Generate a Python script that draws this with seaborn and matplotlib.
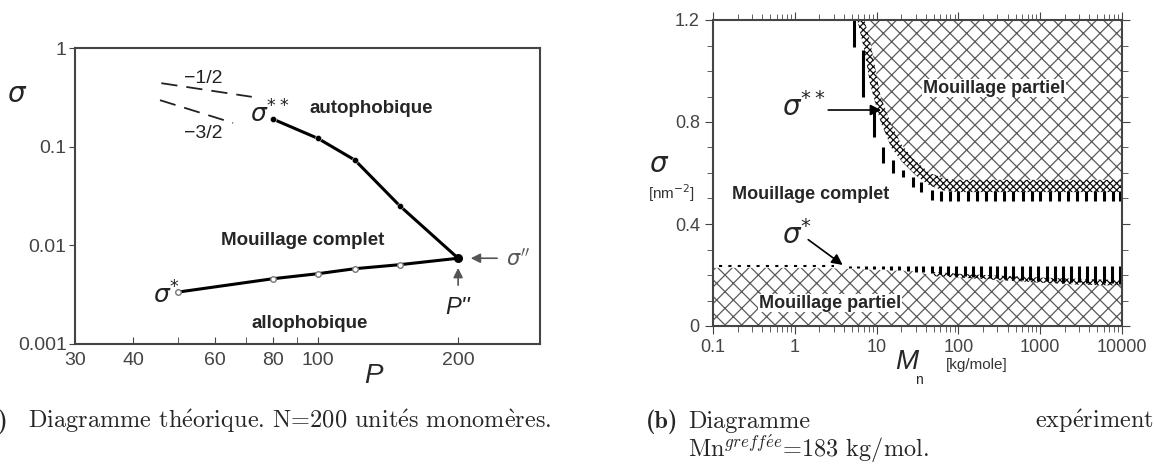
import matplotlib
matplotlib.use("Agg")
import matplotlib.pyplot as plt
import matplotlib.ticker as mticker
import pandas as pd
import seaborn as sns

# ---- (a) theoretical diagram, N = 200
p_upper = [80, 100, 120, 150, 200]
sig_upper = [0.19, 0.121, 0.073, 0.025, 0.0074]
p_lower = [50, 80, 100, 120, 150, 200]
sig_lower = [0.00336, 0.00459, 0.00516, 0.0058, 0.00637, 0.0074]
p_half = [46, 72]
sig_half = [0.44, 0.32]
p_three_half = [45.7, 65.6]
sig_three_half = [0.296, 0.174]
p_ticks = [30, 40, 60, 80, 100, 200]
p_minor = [50, 70, 90]
sig_ticks = [0.001, 0.01, 0.1, 1]
sig_tick_labels = ["0.001", "0.01", "0.1", "1"]

# ---- (b) experimental diagram
m_edge = [5.8, 7.1, 8.3, 11.2, 15.1, 20.3, 30.3, 45, 68, 100, 10000]
sig_edge = [1.2, 1.08, 0.95, 0.80, 0.70, 0.645, 0.59, 0.55, 0.53, 0.525, 0.525]
sig_inner = [1.2, 1.2, 1.12, 0.90, 0.79, 0.71, 0.645, 0.60, 0.578, 0.573, 0.573]

m_err_hi = [5.3, 6.9, 9.3, 12, 15.9, 20.9, 27.5, 35.3, 47, 61, 79, 100, 130,
            170, 220, 280, 365, 470, 610, 790, 1000, 1300, 1700, 2200, 2800,
            3600, 4700, 6000, 7800, 9400]
err_hi_top = [1.2, 1.082, 0.847, 0.703, 0.651, 0.612, 0.586, 0.566, 0.535,
              0.53, 0.53, 0.53, 0.53, 0.53, 0.53, 0.53, 0.53, 0.53, 0.53, 0.53,
              0.53, 0.53, 0.53, 0.53, 0.53, 0.53, 0.53, 0.53, 0.53, 0.53]
err_hi_bot = [1.096, 0.899, 0.742, 0.638, 0.60, 0.586, 0.546, 0.527, 0.495,
              0.49, 0.49, 0.49, 0.49, 0.49, 0.49, 0.49, 0.49, 0.49, 0.49, 0.49,
              0.49, 0.49, 0.49, 0.49, 0.49, 0.49, 0.49, 0.49, 0.49, 0.49]

m_low = [0.1, 1, 3, 10, 30, 50, 100, 300, 1000, 3000, 10000]
sig_low_edge = [0.228, 0.228, 0.226, 0.22, 0.215, 0.212, 0.205, 0.198, 0.19, 0.185, 0.18]
sig_low_band = [0.228, 0.228, 0.226, 0.22, 0.215, 0.195, 0.19, 0.18, 0.17, 0.162, 0.158]

m_dotted = [0.12, 3.0]
sig_dotted = [0.237, 0.237]

m_err_lo = [4.7, 6, 7.5, 9.4, 12, 15, 19, 24, 30, 37, 47, 60, 75, 94, 120, 150,
            190, 240, 300, 370, 470, 600, 750, 940, 1200, 1500, 1900, 2400,
            3000, 3700, 4700, 6000, 7500, 9400]
err_lo_top = [0.237] * len(m_err_lo)
err_lo_bot = [0.227, 0.226, 0.225, 0.224, 0.222, 0.22, 0.218, 0.215, 0.212, 0.21,
              0.207, 0.204, 0.2, 0.198, 0.196, 0.194, 0.192, 0.19, 0.188, 0.186,
              0.184, 0.182, 0.18, 0.178, 0.176, 0.175, 0.174, 0.172, 0.171, 0.17,
              0.169, 0.168, 0.167, 0.166]
m_ticks = [0.1, 1, 10, 100, 1000, 10000]
m_tick_labels = ["0.1", "1", "10", "100", "1000", "10000"]
sig_b_ticks = [0, 0.4, 0.8, 1.2]
sig_b_labels = ["0", "0.4", "0.8", "1.2"]

sns.set_style("ticks")
plt.rcParams["font.family"] = ["Liberation Sans", "DejaVu Sans"]
plt.rcParams["hatch.linewidth"] = 0.9
CAP = ["cmr10", "DejaVu Serif"]

fig = plt.figure(figsize=(11.54, 4.66), dpi=100)
W, H = 1154, 466


def px_axes(x0, y0, x1, y1):
    return fig.add_axes([x0 / W, 1 - y1 / H, (x1 - x0) / W, (y1 - y0) / H])


# ================= panel (a) =================
ax = px_axes(75, 48, 540, 344)
ax.set_xscale("log")
ax.set_yscale("log")
ax.set_xlim(30, 300)
ax.set_ylim(0.001, 1)

up = pd.DataFrame({"P": p_upper, "sigma": sig_upper})
lo = pd.DataFrame({"P": p_lower, "sigma": sig_lower})
sns.lineplot(data=up, x="P", y="sigma", ax=ax, color="black", lw=2.2)
sns.scatterplot(data=up, x="P", y="sigma", ax=ax, color="black", s=20, zorder=3)
sns.lineplot(data=lo, x="P", y="sigma", ax=ax, color="black", lw=2.2)
sns.scatterplot(data=lo, x="P", y="sigma", ax=ax, color="white",
                edgecolor="#777777", s=16, linewidth=1, zorder=3)
ax.plot(p_half, sig_half, color="#222222", lw=1.3, dashes=(9, 5))
ax.plot(p_three_half, sig_three_half, color="#222222", lw=1.3, dashes=(9, 5))
ax.scatter([p_upper[-1]], [sig_upper[-1]], color="black", s=30, zorder=4)

ax.text(56.5, 0.49, "\u22121/2", fontsize=14, ha="center", va="center", color="#222222")
ax.text(56.5, 0.136, "\u22123/2", fontsize=14, ha="center", va="center", color="#222222")
ax.text(71.3, 0.174, r"$\sigma^{**}$", fontsize=18, ha="left", va="baseline", color="#222222")
ax.text(44.1, 0.00258, r"$\sigma^{*}$", fontsize=18, ha="left", va="baseline", color="#222222")
ax.text(130, 0.246, "autophobique", fontsize=13.5, fontweight="bold", ha="center", va="center")
ax.text(92.8, 0.0112, "Mouillage complet", fontsize=13.5, fontweight="bold",
        ha="center", va="center")
ax.text(96, 0.0016, "allophobique", fontsize=13.5, fontweight="bold", ha="center", va="center")

ax.annotate("", xy=(210, 0.0074), xytext=(246, 0.0074),
            arrowprops=dict(arrowstyle="-|>", color="#555555", lw=1.2, mutation_scale=14))
ax.text(253, 0.0074, r"$\sigma''$", fontsize=15, ha="left", va="center", color="#555555")
ax.annotate("", xy=(200, 0.0063), xytext=(200, 0.0037),
            arrowprops=dict(arrowstyle="-|>", color="#555555", lw=1.2, mutation_scale=14))
ax.text(200, 0.00235, "P''", fontsize=17, fontstyle="italic", ha="center", va="center",
        color="#222222")

ax.xaxis.set_major_locator(mticker.FixedLocator(p_ticks))
ax.xaxis.set_major_formatter(mticker.FixedFormatter([str(p) for p in p_ticks]))
ax.xaxis.set_minor_locator(mticker.FixedLocator(p_minor))
ax.xaxis.set_minor_formatter(mticker.NullFormatter())
ax.yaxis.set_major_locator(mticker.FixedLocator(sig_ticks))
ax.yaxis.set_major_formatter(mticker.FixedFormatter(sig_tick_labels))
ax.yaxis.set_minor_locator(mticker.NullLocator())
ax.tick_params(axis="x", which="both", direction="in", length=5, labelsize=14,
               colors="#444444", pad=6)
ax.tick_params(axis="y", direction="out", length=4, labelsize=14, colors="#444444", pad=2)
for s in ax.spines.values():
    s.set_color("#444444")
    s.set_linewidth(1.5)
ax.set_xlabel("")
ax.set_ylabel("")
fig.text(17 / W, 1 - 95 / H, r"$\sigma$", fontsize=20, ha="center", va="center")
fig.text(373 / W, 1 - 376 / H, "P", fontsize=20, fontstyle="italic", ha="center", va="center")

# ================= panel (b) =================
bx = px_axes(713, 20, 1122, 326)
bx.set_xscale("log")
bx.set_xlim(0.1, 10000)
bx.set_ylim(0, 1.2)

bx.fill_between(m_edge, sig_inner, 1.2, facecolor="none", edgecolor="#5a5a5a",
                hatch="xx", linewidth=0)
bx.fill_between(m_edge, sig_edge, sig_inner, facecolor="none", edgecolor="#111111",
                hatch="xxxxx", linewidth=0)
bx.fill_between(m_low, 0, sig_low_band, facecolor="none", edgecolor="#5a5a5a",
                hatch="xx", linewidth=0)
bx.fill_between(m_low[5:], sig_low_band[5:], sig_low_edge[5:], facecolor="none",
                edgecolor="#111111", hatch="xxxxx", linewidth=0)
bx.vlines(m_err_hi, err_hi_bot, err_hi_top, color="black", lw=2.2)
bx.vlines(m_err_lo, err_lo_bot, err_lo_top, color="black", lw=2.2)
sns.lineplot(x=m_dotted, y=sig_dotted, ax=bx, color="black", lw=1.5, linestyle=(0, (1.5, 3)))

bx.text(272, 0.933, "Mouillage partiel", fontsize=13, fontweight="bold",
        ha="center", va="center", bbox=dict(fc="white", ec="none", pad=0.5))
bx.text(1.58, 0.514, "Mouillage complet", fontsize=13, fontweight="bold",
        ha="center", va="center")
bx.text(2.7, 0.09, "Mouillage partiel", fontsize=13, fontweight="bold",
        ha="center", va="center", bbox=dict(fc="white", ec="none", pad=0.5))
bx.text(1.3, 0.859, r"$\sigma^{**}$", fontsize=20, ha="center", va="center")
bx.annotate("", xy=(12.3, 0.847), xytext=(2.37, 0.847),
            arrowprops=dict(arrowstyle="-|>", color="black", lw=1.2, mutation_scale=16))
bx.text(1.06, 0.357, r"$\sigma^{*}$", fontsize=20, ha="center", va="center")
bx.annotate("", xy=(4.1, 0.233), xytext=(1.37, 0.345),
            arrowprops=dict(arrowstyle="-|>", color="black", lw=1.2, mutation_scale=16))

bx.xaxis.set_major_locator(mticker.FixedLocator(m_ticks))
bx.xaxis.set_major_formatter(mticker.FixedFormatter(m_tick_labels))
bx.xaxis.set_minor_locator(mticker.LogLocator(base=10, subs=(2, 3, 4, 5, 6, 7, 8, 9)))
bx.xaxis.set_minor_formatter(mticker.NullFormatter())
bx.yaxis.set_major_locator(mticker.FixedLocator(sig_b_ticks))
bx.yaxis.set_major_formatter(mticker.FixedFormatter(sig_b_labels))
bx.yaxis.set_minor_locator(mticker.MultipleLocator(0.1))
bx.tick_params(which="both", direction="out", top=True, right=True,
               labelsize=13, colors="#444444")
bx.tick_params(which="major", length=6)
bx.tick_params(which="minor", length=4)
for s in bx.spines.values():
    s.set_color("#444444")
    s.set_linewidth(1.5)
bx.set_xlabel("")
bx.set_ylabel("")
fig.text(659 / W, 1 - 165 / H, r"$\sigma$", fontsize=20, ha="center", va="center")
fig.text(671 / W, 1 - 193 / H, r"[nm$^{-2}$]", fontsize=11, ha="center", va="center",
         color="#333333")
fig.text(907 / W, 1 - 362 / H, "M", fontsize=20, fontstyle="italic", ha="center",
         va="center")
fig.text(919 / W, 1 - 380 / H, "n", fontsize=10, ha="center", va="center")
fig.text(977 / W, 1 - 365 / H, "[kg/mole]", fontsize=11, ha="center", va="center",
         color="#333333")

# ================= captions =================
e_ac = r"$\mathrm{\acute{e}}$"
e_gr = r"$\mathrm{\grave{e}}$"
fig.text(9 / W, 1 - 428 / H, "(a)", fontsize=17.5, family="cmb10", ha="right", va="baseline")
fig.text(28 / W, 1 - 428 / H,
         "Diagramme th" + e_ac + "orique. N=200 unit" + e_ac + "s monom" + e_gr + "res.",
         fontsize=17.5, family=CAP, math_fontfamily="cm", ha="left", va="baseline")
fig.text(646 / W, 1 - 428 / H, "(b)", fontsize=17.5, family="cmb10", ha="left", va="baseline")
fig.text(688 / W, 1 - 428 / H, "Diagramme", fontsize=17.5, family=CAP, ha="left", va="baseline")
fig.text(1154 / W, 1 - 428 / H, "exp" + e_ac + "riment", fontsize=17.5, family=CAP,
         math_fontfamily="cm", ha="right", va="baseline")
fig.text(688 / W, 1 - 457 / H, r"Mn$^{greff\acute{e}e}$=183 kg/mol.", fontsize=17.5,
         family=CAP, math_fontfamily="cm", ha="left", va="baseline")

fig.savefig("out.png", dpi=100)
